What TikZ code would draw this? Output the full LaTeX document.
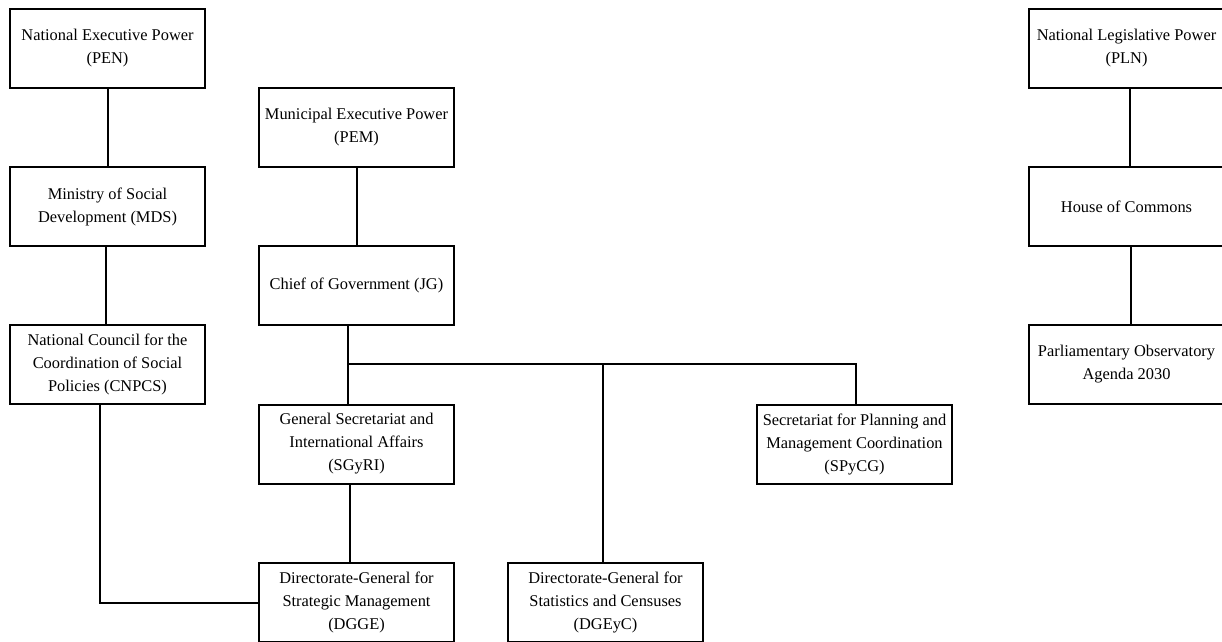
\documentclass[tikz,border=0pt]{standalone}
\usepackage{fontspec}
\setmainfont{Liberation Serif}
\usetikzlibrary{positioning}
\tikzset{
  orgbox/.style={draw, line width=2pt, minimum width=195pt, minimum height=79pt,
    align=center, inner sep=2pt, font=\fontsize{16.4}{23}\selectfont},
  link/.style={line width=2pt}
}
\begin{document}
\begin{tikzpicture}[x=1pt, y=-1pt]
  \clip (0,0) rectangle (1222,641);
  \fill[white] (0,0) rectangle (1222,641);
  % national executive branch
  \node[orgbox] (PEN)   at (107.5,48.5)  {National Executive Power\\(PEN)};
  \node[orgbox] (MDS)   at (107.5,206.5) {Ministry of Social\\Development (MDS)};
  \node[orgbox] (CNPCS) at (107.5,364.5) {National Council for the\\Coordination of Social\\Policies (CNPCS)};
  % municipal executive branch
  \node[orgbox] (PEM)   at (356.5,127)   {Municipal Executive Power\\(PEM)};
  \node[orgbox] (JG)    at (356.5,285.5) {Chief of Government (JG)};
  \node[orgbox] (SGyRI) at (356.5,444)   {General Secretariat and\\International Affairs\\(SGyRI)};
  \node[orgbox] (SPyCG) at (854.5,444)   {Secretariat for Planning and\\Management Coordination\\(SPyCG)};
  \node[orgbox] (DGGE)  at (356.5,602.5) {Directorate-General for\\Strategic Management\\(DGGE)};
  \node[orgbox] (DGEyC) at (605.5,602.5) {Directorate-General for\\Statistics and Censuses\\(DGEyC)};
  % legislative branch
  \node[orgbox] (PLN)   at (1126.5,48.5)  {National Legislative Power\\(PLN)};
  \node[orgbox] (HC)    at (1126.5,206.5) {House of Commons};
  \node[orgbox] (POA)   at (1126.5,364.5) {Parliamentary Observatory\\Agenda 2030};
  \coordinate (bus) at (348,364);
  % connectors
  \draw[link] (PEN) -- (MDS);
  \draw[link] ([xshift=-1.5pt]MDS.south) -- ([xshift=-1.5pt]CNPCS.north);
  \draw[link] ([xshift=-7.5pt]CNPCS.south) |- (DGGE.west);
  \draw[link] (PEM) -- (JG);
  \draw[link] ([xshift=-8.5pt]JG.south) -- ([xshift=-8.5pt]SGyRI.north);
  \draw[link] (bus) -| ([xshift=1.5pt]SPyCG.north);
  \draw[link] ([xshift=-2.5pt]DGEyC.north |- bus) -- ([xshift=-2.5pt]DGEyC.north);
  \draw[link] ([xshift=-6.5pt]SGyRI.south) -- ([xshift=-6.5pt]DGGE.north);
  \draw[link] ([xshift=3.5pt]PLN.south) -- ([xshift=3.5pt]HC.north);
  \draw[link] ([xshift=4pt]HC.south) -- ([xshift=4pt]POA.north);
\end{tikzpicture}
\end{document}
